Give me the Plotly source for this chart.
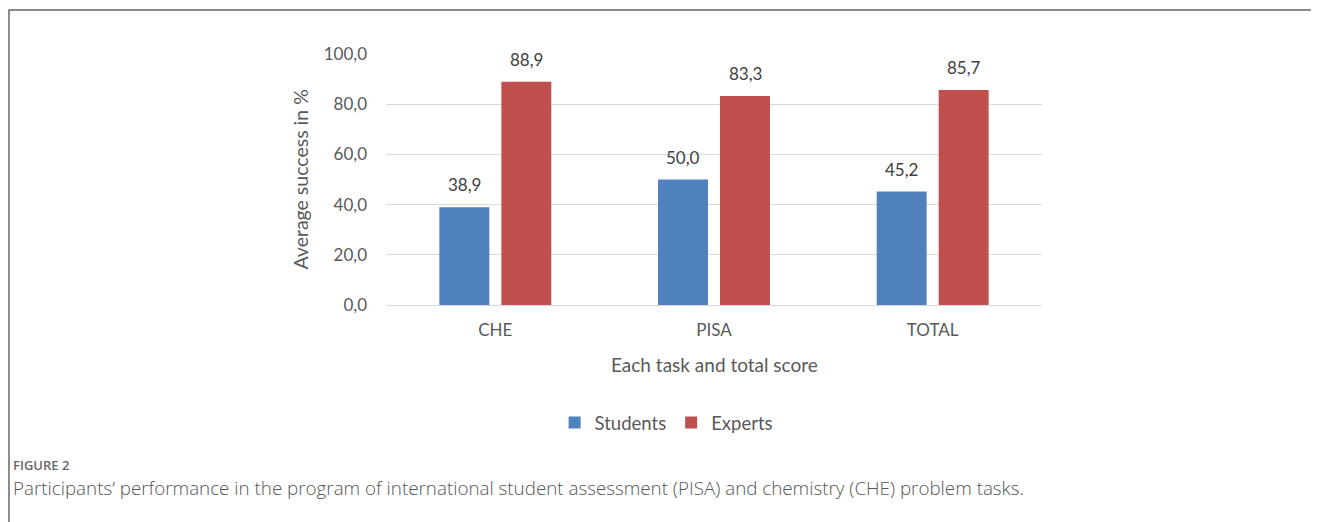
import plotly.graph_objects as go

categories = ["CHE", "PISA", "TOTAL"]
students = [38.9, 50.0, 45.2]
experts = [88.9, 83.3, 85.7]
series_names = ["Students", "Experts"]
colors = ["#4F81BD", "#C0504D"]

FONT = "Lato, Carlito, Calibri, sans-serif"
TXT = "#595959"

fig = go.Figure()
for name, vals, col in zip(series_names, [students, experts], colors):
    fig.add_trace(go.Bar(x=categories, y=vals, name=name, marker_color=col,
                         marker_line_width=0))

def fmt(v):
    return f"{v:.1f}".replace(".", ",")

ann = []
for vals, shift in [(students, -31), (experts, 31)]:
    for c, v in zip(categories, vals):
        ann.append(dict(x=c, y=v, xref="x", yref="y", text=fmt(v), showarrow=False,
                        xshift=shift, yshift=10, yanchor="bottom",
                        font=dict(family=FONT, size=17, color="#404040")))

# axis titles
ann.append(dict(x=-0.131, y=0.5, xref="paper", yref="paper", text="Average success in %",
                textangle=-90, showarrow=False, xanchor="center", yanchor="middle",
                font=dict(family=FONT, size=19.5, color=TXT)))
ann.append(dict(x=0.5, y=-0.238, xref="paper", yref="paper", text="Each task and total score",
                showarrow=False, xanchor="center", yanchor="middle",
                font=dict(family=FONT, size=19, color=TXT)))
# caption
ann.append(dict(x=-0.571, y=-0.637, xref="paper", yref="paper", text="FIGURE 2",
                showarrow=False, xanchor="left", yanchor="middle",
                font=dict(family="Open Sans, sans-serif", size=13, color="#666666", weight=600)))
ann.append(dict(x=-0.571, y=-0.729, xref="paper", yref="paper",
                text="Participants\u2019 performance in the program of international student assessment (PISA) and chemistry (CHE) problem tasks.",
                showarrow=False, xanchor="left", yanchor="middle",
                font=dict(family="Open Sans, sans-serif", size=18.8, color="#555555", weight=300)))

fig.update_layout(
    width=1311, height=514,
    margin=dict(l=378, r=277, t=46, b=217),
    paper_bgcolor="white", plot_bgcolor="white",
    barmode="group", bargap=0.433, bargroupgap=0.194,
    separators=",.",
    font=dict(family=FONT, color=TXT),
    showlegend=True,
    legend=dict(orientation="h", x=0.427, y=-0.47, xanchor="center", yanchor="middle",
                font=dict(family=FONT, size=18.5, color=TXT), itemwidth=30,
                traceorder="normal"),
    annotations=ann,
    shapes=[dict(type="rect", xref="paper", yref="paper", x0=-0.5747, x1=1.45,
                 y0=-0.9, y1=1.175, line=dict(color="#666666", width=1.5), layer="below")],
)
fig.update_xaxes(showgrid=False, showline=True, linecolor="#D9D9D9", linewidth=1,
                 ticks="", ticklabelstandoff=10,
                 tickfont=dict(family=FONT, size=17, color=TXT))
fig.update_yaxes(range=[0, 100], dtick=20, tickformat=".1f", showgrid=True,
                 gridcolor="#D9D9D9", gridwidth=1, zeroline=False, showline=False,
                 ticks="", ticklabelstandoff=18,
                 tickfont=dict(family=FONT, size=17, color=TXT))

fig.write_html("out.html")
